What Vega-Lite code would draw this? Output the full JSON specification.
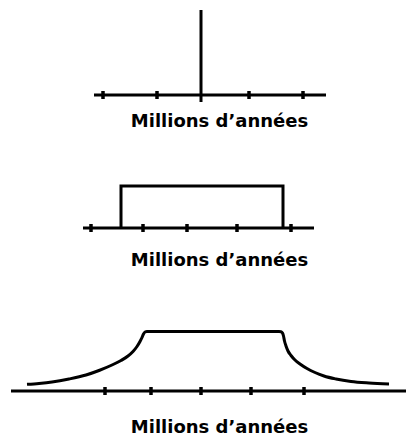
{
  "$schema": "https://vega.github.io/schema/vega-lite/v6.json",
  "background": "white",
  "padding": {"left": 9, "top": 8, "right": 0, "bottom": 0},
  "spacing": 91,
  "bounds": "flush",
  "config": {
    "view": {"stroke": null},
    "axis": {
      "domain": false, "ticks": false, "labels": false, "grid": false,
      "titleFont": "DejaVu Sans", "titleFontSize": 18, "titleFontWeight": "bold",
      "titleColor": "black", "titleAlign": "center", "titleBaseline": "alphabetic",
      "titleX": 208
    }
  },
  "vconcat": [
    {
      "width": 395, "height": 85,
      "layer": [
        {
          "data": {"values": [{"start": 83, "end": 315, "level": 0}]},
          "mark": {"type": "rule", "color": "black", "strokeWidth": 3},
          "encoding": {
            "x": {"field": "start", "type": "quantitative", "scale": {"domain": [0, 395]}, "axis": {"title": "Millions d’années", "titleY": 31}},
            "x2": {"field": "end"},
            "y": {"field": "level", "type": "quantitative", "scale": {"domain": [0, 85]}, "axis": null}
          }
        },
        {
          "data": {"values": [{"t": 92}, {"t": 146}, {"t": 238}, {"t": 292}]},
          "mark": {"type": "tick", "orient": "vertical", "color": "black", "thickness": 3.5, "size": 8, "opacity": 1},
          "encoding": {
            "x": {"field": "t", "type": "quantitative", "scale": {"domain": [0, 395]}, "axis": {"title": "Millions d’années", "titleY": 31}},
            "y": {"datum": 0, "type": "quantitative", "scale": {"domain": [0, 85]}, "axis": null}
          }
        },
        {
          "data": {"values": [{"t": 190, "low": -7, "high": 85}]},
          "mark": {"type": "rule", "color": "black", "strokeWidth": 3},
          "encoding": {
            "x": {"field": "t", "type": "quantitative", "scale": {"domain": [0, 395]}, "axis": {"title": "Millions d’années", "titleY": 31}},
            "y": {"field": "low", "type": "quantitative", "scale": {"domain": [0, 85]}, "axis": null},
            "y2": {"field": "high"}
          }
        }
      ]
    },
    {
      "width": 395, "height": 42,
      "layer": [
        {
          "data": {"values": [{"start": 72, "end": 303, "level": 0}]},
          "mark": {"type": "rule", "color": "black", "strokeWidth": 3},
          "encoding": {
            "x": {"field": "start", "type": "quantitative", "scale": {"domain": [0, 395]}, "axis": {"title": "Millions d’années", "titleY": 37}},
            "x2": {"field": "end"},
            "y": {"field": "level", "type": "quantitative", "scale": {"domain": [0, 42]}, "axis": null}
          }
        },
        {
          "data": {"values": [{"t": 80}, {"t": 132}, {"t": 176}, {"t": 226}, {"t": 280}]},
          "mark": {"type": "tick", "orient": "vertical", "color": "black", "thickness": 3.5, "size": 8, "opacity": 1},
          "encoding": {
            "x": {"field": "t", "type": "quantitative", "scale": {"domain": [0, 395]}, "axis": {"title": "Millions d’années", "titleY": 37}},
            "y": {"datum": 0, "type": "quantitative", "scale": {"domain": [0, 42]}, "axis": null}
          }
        },
        {
          "data": {"values": [
            {"t": 110, "v": 0, "o": 1},
            {"t": 110, "v": 42, "o": 2},
            {"t": 272, "v": 42, "o": 3},
            {"t": 272, "v": 0, "o": 4}
          ]},
          "mark": {"type": "line", "color": "black", "strokeWidth": 3, "strokeJoin": "miter"},
          "encoding": {
            "x": {"field": "t", "type": "quantitative", "scale": {"domain": [0, 395]}, "axis": {"title": "Millions d’années", "titleY": 37}},
            "y": {"field": "v", "type": "quantitative", "scale": {"domain": [0, 42]}, "axis": null},
            "order": {"field": "o", "type": "quantitative"}
          }
        }
      ]
    },
    {
      "width": 395, "height": 72,
      "layer": [
        {
          "data": {"values": [{"start": 0, "end": 395, "level": 0}]},
          "mark": {"type": "rule", "color": "black", "strokeWidth": 3},
          "encoding": {
            "x": {"field": "start", "type": "quantitative", "scale": {"domain": [0, 395]}, "axis": {"title": "Millions d’années", "titleY": 41}},
            "x2": {"field": "end"},
            "y": {"field": "level", "type": "quantitative", "scale": {"domain": [0, 72]}, "axis": null}
          }
        },
        {
          "data": {"values": [{"t": 94}, {"t": 140}, {"t": 190}, {"t": 240}, {"t": 293}]},
          "mark": {"type": "tick", "orient": "vertical", "color": "black", "thickness": 3.5, "size": 8, "opacity": 1},
          "encoding": {
            "x": {"field": "t", "type": "quantitative", "scale": {"domain": [0, 395]}, "axis": {"title": "Millions d’années", "titleY": 41}},
            "y": {"datum": 0, "type": "quantitative", "scale": {"domain": [0, 72]}, "axis": null}
          }
        },
        {
          "data": {"values": [
            {"t": 16, "v": 6.7},
            {"t": 28, "v": 7.6},
            {"t": 41, "v": 9},
            {"t": 58, "v": 12},
            {"t": 75, "v": 16},
            {"t": 88, "v": 20.5},
            {"t": 101, "v": 26},
            {"t": 110, "v": 30.5},
            {"t": 117, "v": 35},
            {"t": 122, "v": 39.5},
            {"t": 126, "v": 44.5},
            {"t": 129, "v": 49.5},
            {"t": 131, "v": 53.5},
            {"t": 132.5, "v": 57},
            {"t": 134, "v": 59},
            {"t": 136, "v": 59.5},
            {"t": 268, "v": 59.5},
            {"t": 270, "v": 59.3},
            {"t": 271.5, "v": 58},
            {"t": 272.5, "v": 55},
            {"t": 273.5, "v": 50},
            {"t": 275, "v": 45},
            {"t": 277, "v": 40},
            {"t": 280, "v": 35.5},
            {"t": 284, "v": 31},
            {"t": 289, "v": 27},
            {"t": 296, "v": 22.5},
            {"t": 304, "v": 18.5},
            {"t": 313, "v": 15},
            {"t": 325, "v": 12},
            {"t": 340, "v": 9.5},
            {"t": 358, "v": 8},
            {"t": 378, "v": 7}
          ]},
          "mark": {"type": "line", "color": "black", "strokeWidth": 3, "interpolate": "monotone"},
          "encoding": {
            "x": {"field": "t", "type": "quantitative", "scale": {"domain": [0, 395]}, "axis": {"title": "Millions d’années", "titleY": 41}},
            "y": {"field": "v", "type": "quantitative", "scale": {"domain": [0, 72]}, "axis": null}
          }
        }
      ]
    }
  ]
}
